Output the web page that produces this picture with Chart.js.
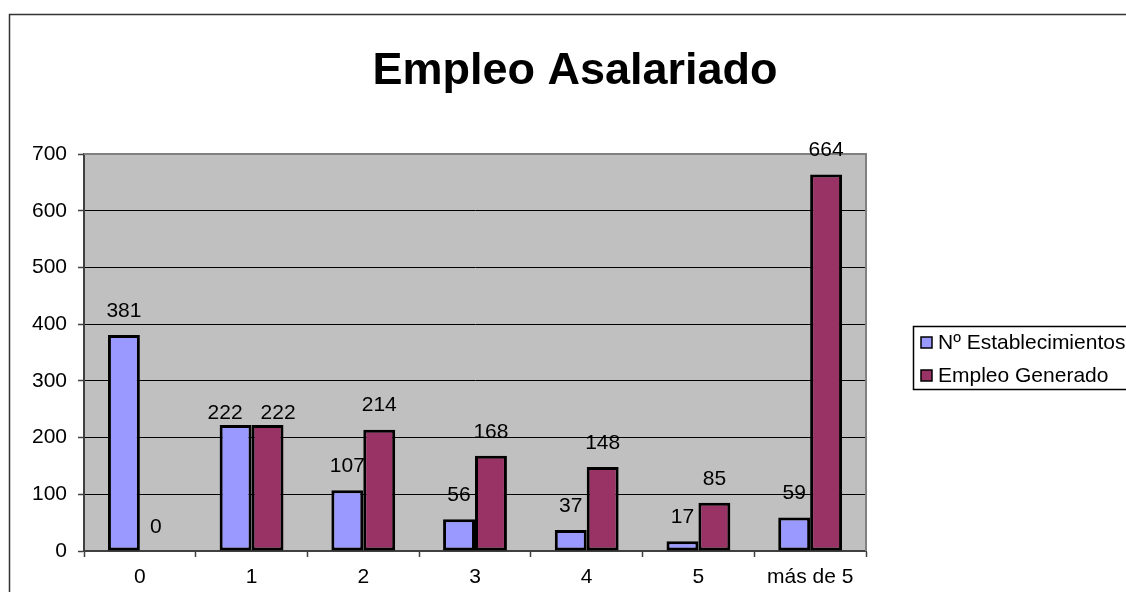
<!DOCTYPE html>
<html>
<head>
<meta charset="utf-8">
<script src="https://cdn.jsdelivr.net/npm/chart.js@4.4.1/dist/chart.umd.min.js"></script>
<style>
html,body{margin:0;padding:0;background:#fff;}
canvas{display:block;}
</style>
</head>
<body>
<canvas id="c" width="1126" height="592"></canvas>
<script>
const chartTitle = "Empleo Asalariado";
const categories = ["0", "1", "2", "3", "4", "5", "más de 5"];
const seriesNames = ["Nº Establecimientos", "Empleo Generado"];
const establecimientos = [381, 222, 107, 56, 37, 17, 59];
const empleoGenerado = [0, 222, 214, 168, 148, 85, 664];
const yTicks = [0, 100, 200, 300, 400, 500, 600, 700];
const seriesColors = ["#9999FF", "#993366"];

const FONT = '"Liberation Sans", Arial, sans-serif';

function labelPos(chart, dsIndex, i) {
  const ctx = chart.ctx;
  const bar = chart.getDatasetMeta(dsIndex).data[i];
  let x = bar.x, y = bar.y - 24;
  const other = chart.getDatasetMeta(1 - dsIndex).data[i];
  const oy = other.y - 24;
  if (Math.abs(oy - y) < 20) {
    ctx.font = '21px ' + FONT;
    const w1 = ctx.measureText(String(chart.data.datasets[dsIndex].data[i])).width;
    const w2 = ctx.measureText(String(chart.data.datasets[1 - dsIndex].data[i])).width;
    const need = (w1 + w2) / 2 + 18;
    const dist = Math.abs(other.x - bar.x);
    if (dist < need) {
      const shift = (need - dist) / 2;
      x += (bar.x < other.x ? -shift : shift);
    }
    y += 12;
  }
  return {x, y};
}

function drawLabels(chart, dsIndex) {
  const ctx = chart.ctx;
  const meta = chart.getDatasetMeta(dsIndex);
  const data = chart.data.datasets[dsIndex].data;
  ctx.save();
  meta.data.forEach((bar, i) => {
    const p = labelPos(chart, dsIndex, i);
    ctx.font = '21px ' + FONT;
    ctx.fillStyle = '#000';
    ctx.textAlign = 'center';
    ctx.textBaseline = 'middle';
    ctx.fillText(String(data[i]), p.x, p.y);
  });
  ctx.restore();
}

const decor = {
  id: 'decor',
  beforeDraw(chart) {
    const {ctx, chartArea: a} = chart;
    ctx.save();
    ctx.fillStyle = '#fff';
    ctx.fillRect(0, 0, chart.width, chart.height);
    ctx.strokeStyle = '#333';
    ctx.lineWidth = 1.5;
    ctx.strokeRect(9.5, 14.5, 1140, 600);
    ctx.fillStyle = '#C0C0C0';
    ctx.fillRect(a.left, a.top, a.right - a.left, a.bottom - a.top);
    ctx.fillStyle = '#000';
    ctx.font = 'bold 45px ' + FONT;
    ctx.textAlign = 'center';
    ctx.textBaseline = 'alphabetic';
    ctx.fillText(chartTitle, 575, 84);
    ctx.restore();
  },
  beforeDatasetsDraw(chart) {
    const {ctx, chartArea: a} = chart;
    ctx.save();
    ctx.strokeStyle = '#808080';
    ctx.lineWidth = 2;
    ctx.beginPath();
    ctx.moveTo(a.left, a.top);
    ctx.lineTo(a.right, a.top);
    ctx.lineTo(a.right, a.bottom);
    ctx.stroke();
    ctx.restore();
    drawLabels(chart, 0);
  },
  afterDatasetsDraw(chart) {
    drawLabels(chart, 1);
    const ctx = chart.ctx;
    ctx.save();
    ctx.fillStyle = '#fff';
    ctx.fillRect(913, 327, 240, 63);
    ctx.strokeStyle = '#000';
    ctx.lineWidth = 1.5;
    ctx.strokeRect(913.5, 326.5, 240, 63);
    ctx.font = '21px ' + FONT;
    ctx.textAlign = 'left';
    ctx.textBaseline = 'middle';
    const rows = [342, 375];
    seriesNames.forEach((name, i) => {
      ctx.fillStyle = seriesColors[i];
      ctx.fillRect(921, rows[i] - 5, 11, 11);
      ctx.strokeStyle = '#000';
      ctx.lineWidth = 1.5;
      ctx.strokeRect(921, rows[i] - 5, 11, 11);
      ctx.fillStyle = '#000';
      ctx.fillText(name, 938, rows[i] + 1);
    });
    ctx.restore();
  }
};

new Chart(document.getElementById('c'), {
  type: 'bar',
  data: {
    labels: categories,
    datasets: [
      {label: seriesNames[0], data: establecimientos, backgroundColor: seriesColors[0], borderColor: '#000', borderWidth: 3, borderSkipped: false},
      {label: seriesNames[1], data: empleoGenerado, backgroundColor: seriesColors[1], borderColor: '#000', borderWidth: 3, borderSkipped: false}
    ]
  },
  options: {
    responsive: false,
    animation: false,
    layout: {padding: {left: 0, right: 260, top: 154, bottom: 0}},
    datasets: {bar: {categoryPercentage: 1 / 1.75, barPercentage: 1}},
    plugins: {legend: {display: false}, title: {display: false}, tooltip: {enabled: false}},
    scales: {
      x: {
        offset: true,
        grid: {display: true, drawOnChartArea: false, offset: true, tickLength: 6, tickColor: '#404040', tickWidth: 1.5},
        border: {display: true, color: '#404040', width: 2},
        ticks: {color: '#000', font: {family: FONT, size: 21}, padding: 8, maxRotation: 0, autoSkip: false},
        afterFit(s) { s.height = 41; }
      },
      y: {
        min: 0, max: 700,
        afterBuildTicks(s) { s.ticks = yTicks.map(v => ({value: v})); },
        grid: {
          drawOnChartArea: true,
          color: c => (c.tick && (c.tick.value === 0 || c.tick.value === 700)) ? 'rgba(0,0,0,0)' : '#000',
          lineWidth: 1,
          tickLength: 6, tickColor: '#404040', tickWidth: 1.5
        },
        border: {display: true, color: '#404040', width: 2},
        ticks: {color: '#000', font: {family: FONT, size: 21}, padding: 11},
        afterFit(s) { s.width = 84; }
      }
    }
  },
  plugins: [decor]
});
</script>
</body>
</html>
